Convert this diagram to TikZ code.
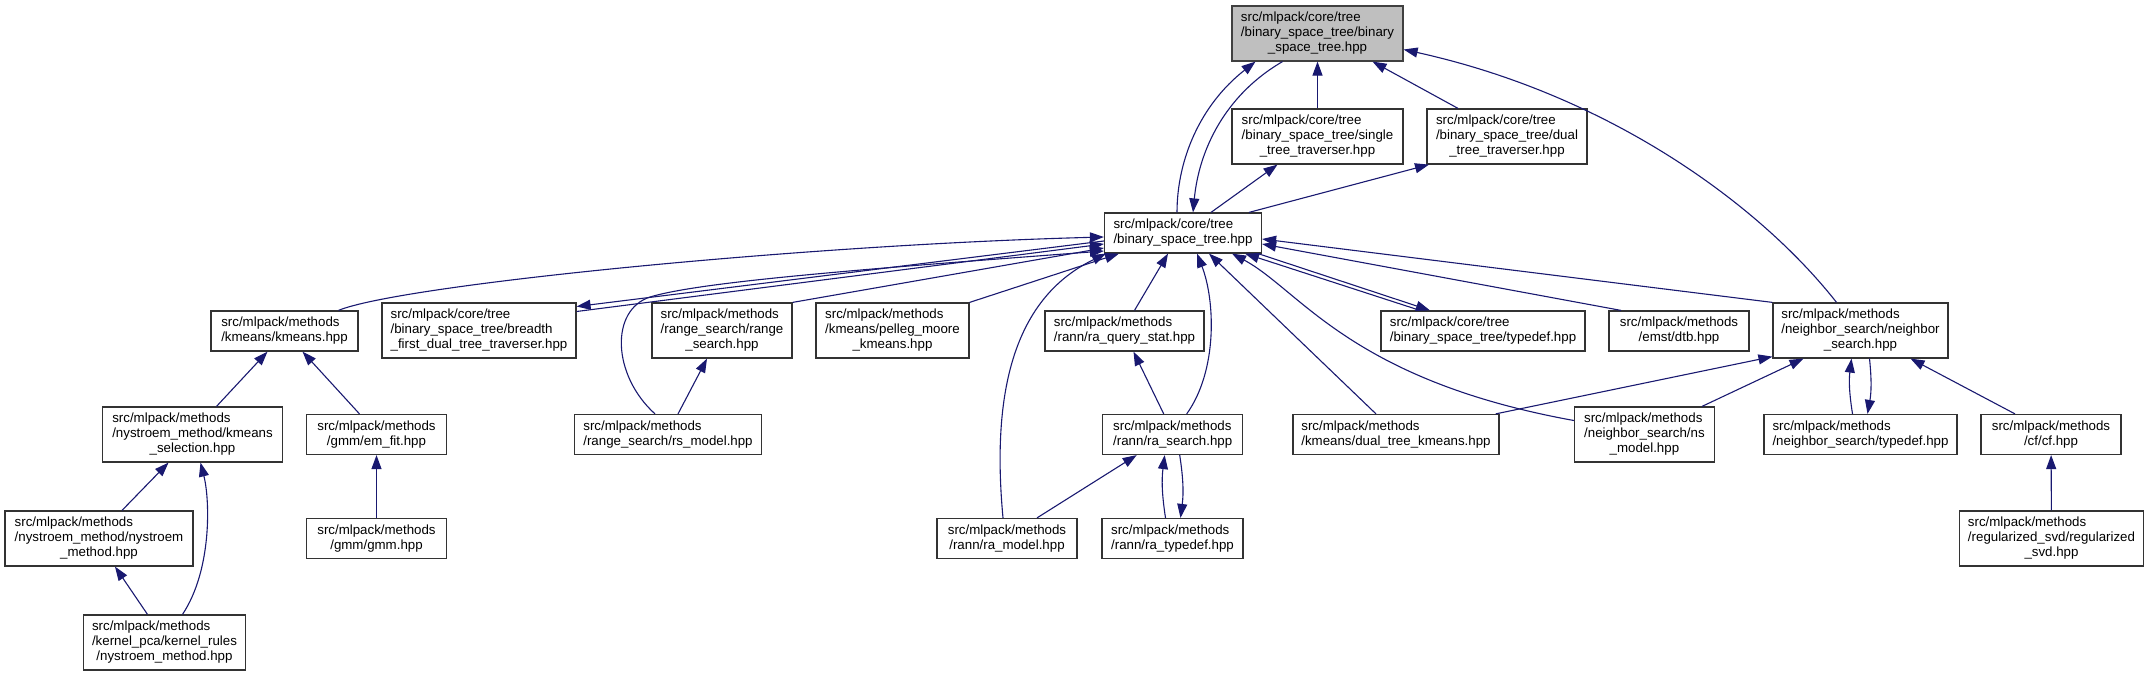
\documentclass[tikz,border=0pt]{standalone}
\usepackage{fontspec}
\setmainfont{Liberation Sans}
\usetikzlibrary{arrows.meta}
\definecolor{depblue}{HTML}{191970}
\definecolor{rootgray}{HTML}{BFBFBF}
\newcommand{\filefont}{\fontsize{13.3}{15}\selectfont}
\newcommand{\filelabel}[2]{\begin{tabular}{@{}l@{}}#1\\\multicolumn{1}{@{}c@{}}{#2}\end{tabular}}
\begin{document}
\begin{tikzpicture}[x=1pt,y=-1pt,
  file/.style={draw=black!80,fill=white,line width=1.2pt,inner sep=0pt,font=\filefont},
  two/.style={file,minimum height=40pt},
  three/.style={file,minimum height=55pt},
  dep/.style={draw=depblue,line width=1.1pt,{Triangle[length=14pt,width=10pt]}-}]
  \useasboundingbox (0,0) rectangle (2149,676);
  % core/tree files
  \node[three,fill=rootgray,draw=black!75,minimum width=171pt] (root) at (1317.5,33.5)
    {\filelabel{src/mlpack/core/tree\\/binary\_space\_tree/binary}{\_space\_tree.hpp}};
  \node[three,minimum width=171pt] (single) at (1317.5,136.5)
    {\filelabel{src/mlpack/core/tree\\/binary\_space\_tree/single}{\_tree\_traverser.hpp}};
  \node[three,minimum width=160pt] (dual) at (1507,136.5)
    {\filelabel{src/mlpack/core/tree\\/binary\_space\_tree/dual}{\_tree\_traverser.hpp}};
  \node[two,minimum width=157pt] (mid) at (1183,233)
    {\filelabel{src/mlpack/core/tree}{/binary\_space\_tree.hpp}};
  \node[three,minimum width=194pt] (breadth) at (479,330.5)
    {\filelabel{src/mlpack/core/tree\\/binary\_space\_tree/breadth}{\_first\_dual\_tree\_traverser.hpp}};
  \node[two,minimum width=204pt] (coretypedef) at (1483,331)
    {\filelabel{src/mlpack/core/tree}{/binary\_space\_tree/typedef.hpp}};
  % methods files, two lines
  \foreach \id/\cx/\cy/\bw/\lb in {
      kmeans/284.5/331/147/{/kmeans/kmeans.hpp},
      raquery/1124.5/331/159/{/rann/ra\_query\_stat.hpp},
      dtb/1679/331/140/{/emst/dtb.hpp},
      emfit/376.5/434.5/140/{/gmm/em\_fit.hpp},
      rsmodel/668/434.5/187/{/range\_search/rs\_model.hpp},
      rasearch/1172.7/434.5/140/{/rann/ra\_search.hpp},
      dualkmeans/1396/434.5/206/{/kmeans/dual\_tree\_kmeans.hpp},
      nstypedef/1860.5/434.5/193/{/neighbor\_search/typedef.hpp},
      cf/2051/434.5/140/{/cf/cf.hpp},
      gmm/376.5/538.5/140/{/gmm/gmm.hpp},
      ramodel/1007/538.5/140/{/rann/ra\_model.hpp},
      ratypedef/1172.5/538.5/141/{/rann/ra\_typedef.hpp}}
    \node[two,minimum width=\bw pt] (\id) at (\cx,\cy) {\filelabel{src/mlpack/methods}{\lb}};
  % methods files, three lines
  \foreach \id/\cx/\cy/\bw/\la/\lb in {
      range/722/330.5/140/{/range\_search/range}/{\_search.hpp},
      pelleg/892.5/330.5/153/{/kmeans/pelleg\_moore}/{\_kmeans.hpp},
      neighbor/1860.5/330.5/175/{/neighbor\_search/neighbor}/{\_search.hpp},
      kmsel/192.5/434.5/180/{/nystroem\_method/kmeans}/{\_selection.hpp},
      nsmodel/1644.4/434.5/140/{/neighbor\_search/ns}/{\_model.hpp},
      nysmethod/99/538.5/188/{/nystroem\_method/nystroem}/{\_method.hpp},
      regsvd/2051.5/538.5/184/{/regularized\_svd/regularized}/{\_svd.hpp}}
    \node[three,minimum width=\bw pt] (\id) at (\cx,\cy) {\filelabel{src/mlpack/methods\\\la}{\lb}};
  \node[three,minimum width=162pt] (kernelrules) at (164.5,642.5)
    {\filelabel{src/mlpack/methods\\/kernel\_pca/kernel\_rules}{/nystroem\_method.hpp}};
  % edges into root
  \draw[dep] (root.south) -- (single.north);
  \draw[dep] ([xshift=55pt]root.south) -- ([xshift=-49pt]dual.north);
  \draw[dep] ([xshift=-62pt]root.south) .. controls (1200,105) and (1177,160) .. ([xshift=-6pt]mid.north);
  \draw[dep] ([xshift=10pt]mid.north) .. controls (1199,150) and (1225,95) .. ([xshift=-35pt]root.south);
  \draw[dep] ([yshift=-16pt]root.east) .. controls (1610,95) and (1760,205) .. ([xshift=-24pt]neighbor.north);
  \draw[dep] ([xshift=-40pt]single.south) -- ([xshift=28pt]mid.north);
  \draw[dep] ([xshift=-78pt]dual.south) -- ([xshift=66pt]mid.north);
  % edges into mid, from the left
  \draw[dep] ([yshift=-4pt]mid.west) .. controls (800,245) and (400,285) .. ([xshift=54pt]kmeans.north);
  \draw[dep] ([yshift=24pt]breadth.east) -- ([yshift=-8pt]mid.west);
  \draw[dep] ([yshift=-11pt]mid.west) -- ([yshift=19pt]breadth.east);
  \draw[dep] ([yshift=-15pt]mid.west) -- (range.north east);
  \draw[dep] ([yshift=-18pt]mid.west) .. controls (850,270) and (700,282) .. (650,297)
    .. controls (610,310) and (612,375) .. ([xshift=-13pt]rsmodel.north);
  \draw[dep] ([xshift=-64pt]mid.south) -- (pelleg.north east);
  \draw[dep] ([xshift=-77pt]mid.south) .. controls (1010,300) and (992,400) .. ([xshift=-4pt]ramodel.north);
  % edges into mid, from below and the right
  \draw[dep] ([xshift=-15pt]mid.south) -- ([xshift=10pt]raquery.north);
  \draw[dep] ([xshift=14pt]mid.south) .. controls (1215,300) and (1218,370) .. ([xshift=14pt]rasearch.north);
  \draw[dep] ([xshift=26pt]mid.south) -- ([xshift=-20pt]dualkmeans.north);
  \draw[dep] ([xshift=49pt]mid.south) .. controls (1300,290) and (1350,380) .. ([yshift=14pt]nsmodel.west);
  \draw[dep] ([xshift=62pt]mid.south) -- ([xshift=-63pt]coretypedef.north);
  \draw[dep] ([xshift=-53pt]coretypedef.north) -- ([xshift=75pt]mid.south);
  \draw[dep] ([yshift=-6pt]mid.east) -- (neighbor.north west);
  \draw[dep] ([yshift=-11pt]mid.east) -- ([xshift=-58pt]dtb.north);
  % neighbor_search side
  \draw[dep] ([yshift=2pt]neighbor.south west) -- ([xshift=-4pt]dualkmeans.north east);
  \draw[dep] ([xshift=-57pt]neighbor.south) -- ([xshift=-13pt]nsmodel.north east);
  \draw[dep] ([xshift=-9pt]neighbor.south) to[bend right=8] ([xshift=-8pt]nstypedef.north);
  \draw[dep] ([xshift=7pt]nstypedef.north) to[bend right=8] ([xshift=9pt]neighbor.south);
  \draw[dep] ([xshift=50pt]neighbor.south) -- ([xshift=-36pt]cf.north);
  \draw[dep] (cf) -- (regsvd);
  % kmeans, gmm and rann side
  \draw[dep] ([xshift=-17pt]kmeans.south) -- ([xshift=24pt]kmsel.north);
  \draw[dep] ([xshift=18pt]kmeans.south) -- ([xshift=-17pt]emfit.north);
  \draw[dep] (emfit) -- (gmm);
  \draw[dep] ([xshift=-24pt]kmsel.south) -- ([xshift=23pt]nysmethod.north);
  \draw[dep] ([xshift=8pt]kmsel.south) .. controls (210,500) and (212,570) .. ([xshift=18pt]kernelrules.north);
  \draw[dep] ([xshift=16pt]nysmethod.south) -- ([xshift=-17pt]kernelrules.north);
  \draw[dep] ([xshift=-15pt]range.south) -- ([xshift=10pt]rsmodel.north);
  \draw[dep] ([xshift=9pt]raquery.south) -- ([xshift=-9pt]rasearch.north);
  \draw[dep] ([xshift=-36pt]rasearch.south) -- ([xshift=30pt]ramodel.north);
  \draw[dep] ([xshift=-8pt]rasearch.south) to[bend right=8] ([xshift=-7pt]ratypedef.north);
  \draw[dep] ([xshift=8pt]ratypedef.north) to[bend right=8] ([xshift=7pt]rasearch.south);
\end{tikzpicture}
\end{document}
